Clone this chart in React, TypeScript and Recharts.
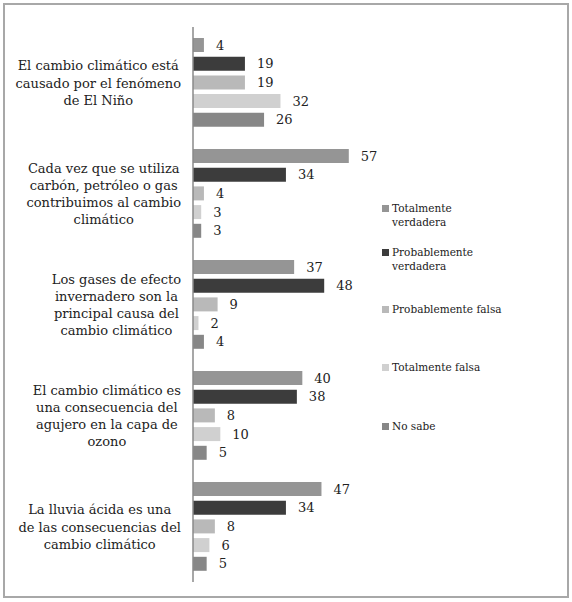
import React from "react";
import { BarChart, Bar, XAxis, YAxis, LabelList, Legend } from "recharts";

// category labels, one entry per wrapped line as in the source
const categoryLines = [
  ["El cambio climático está", "causado por el fenómeno", "de El Niño"],
  ["Cada vez que se utiliza", "carbón, petróleo o gas", "contribuimos al cambio", "climático"],
  ["Los gases de efecto", "invernadero son la", "principal causa del", "cambio climático"],
  ["El cambio climático es", "una consecuencia del", "agujero en la capa de", "ozono"],
  ["La lluvia ácida es una", "de las consecuencias del", "cambio climático"],
];
const categories = categoryLines.map((l) => l.join(" "));

const totalmenteVerdadera = [4, 57, 37, 40, 47];
const probablementeVerdadera = [19, 34, 48, 38, 34];
const probablementeFalsa = [19, 4, 9, 8, 8];
const totalmenteFalsa = [32, 3, 2, 10, 6];
const noSabe = [26, 3, 4, 5, 5];

const seriesNames = [
  "Totalmente verdadera",
  "Probablemente verdadera",
  "Probablemente falsa",
  "Totalmente falsa",
  "No sabe",
];
const legendLines = [
  ["Totalmente", "verdadera"],
  ["Probablemente", "verdadera"],
  ["Probablemente falsa"],
  ["Totalmente falsa"],
  ["No sabe"],
];

const COLORS = ["#959595", "#3c3c3c", "#b9b9b9", "#d0d0d0", "#878787"];
const KEYS = ["tv", "pv", "pf", "tf", "ns"];

const data = categories.map((name, i) => ({
  name,
  tv: totalmenteVerdadera[i],
  pv: probablementeVerdadera[i],
  pf: probablementeFalsa[i],
  tf: totalmenteFalsa[i],
  ns: noSabe[i],
}));

const FONT = '"DejaVu Serif", serif';
const TICK_SIZE = 13;
const LINE_H = 17.3;

let ctx: CanvasRenderingContext2D | null = null;
function measure(s: string) {
  if (!ctx) ctx = document.createElement("canvas").getContext("2d");
  if (!ctx) return s.length * 7;
  ctx.font = `${TICK_SIZE}px "DejaVu Serif"`;
  return ctx.measureText(s).width;
}

function CategoryTick({ y, payload }: any) {
  const idx = categories.indexOf(payload.value);
  const lines = categoryLines[idx] || [String(payload.value)];
  const blockW = Math.max(...lines.map(measure));
  const cx = 181 - blockW / 2;
  const y0 = y - ((lines.length - 1) / 2) * LINE_H;
  return (
    <text
      textAnchor="middle"
      fill="#222"
      fontSize={TICK_SIZE}
      fontFamily={FONT}
      dominantBaseline="central"
    >
      {lines.map((l, i) => (
        <tspan key={i} x={cx} y={y0 + i * LINE_H}>
          {l}
        </tspan>
      ))}
    </text>
  );
}

// legend item tops, Excel spaced them unevenly
const legendTops = [0, 44, 101, 159, 218];

function renderLegend() {
  return (
    <div style={{ position: "relative", fontFamily: FONT, fontSize: 10.5, color: "#222" }}>
      {seriesNames.map((name, i) => (
        <div
          key={name}
          style={{ position: "absolute", top: legendTops[i], left: 0, lineHeight: "14px", whiteSpace: "nowrap" }}
        >
          <span
            style={{
              position: "absolute",
              left: 0,
              top: 4,
              width: 7,
              height: 7,
              background: COLORS[i],
            }}
          />
          <div style={{ marginLeft: 10 }}>
            {legendLines[i].map((l) => (
              <div key={l}>{l}</div>
            ))}
          </div>
        </div>
      ))}
    </div>
  );
}

export default function App() {
  return (
    <div style={{ position: "absolute", left: 0, top: 0, width: 572, height: 602, background: "#fff" }}>
      <div
        style={{
          position: "absolute",
          left: 3,
          top: 3,
          width: 566,
          height: 595,
          border: "2px solid #a8a8a8",
          boxSizing: "border-box",
        }}
      />
      <div style={{ position: "absolute", left: 0, top: 0 }}>
        <BarChart
          width={572}
          height={602}
          data={data}
          layout="vertical"
          margin={{ top: 27, right: 215, bottom: 20, left: 0 }}
          barSize={14}
          barGap={4.7}
        >
          <XAxis type="number" domain={[0, 60]} hide />
          <YAxis
            type="category"
            dataKey="name"
            width={193}
            axisLine={{ stroke: "#8a8a8a", strokeWidth: 1.5 }}
            tickLine={false}
            tick={<CategoryTick />}
            interval={0}
          />
          <Legend
            layout="horizontal"
            verticalAlign="middle"
            align="center"
            content={renderLegend}
            wrapperStyle={{ left: 382, top: 201, width: 160, height: 240 }}
          />
          {KEYS.map((k, i) => (
            <Bar key={k} dataKey={k} name={seriesNames[i]} fill={COLORS[i]} isAnimationActive={false}>
              <LabelList
                dataKey={k}
                position="right"
                offset={12}
                fill="#222"
                fontSize={13}
                fontFamily={FONT}
              />
            </Bar>
          ))}
        </BarChart>
      </div>
    </div>
  );
}
